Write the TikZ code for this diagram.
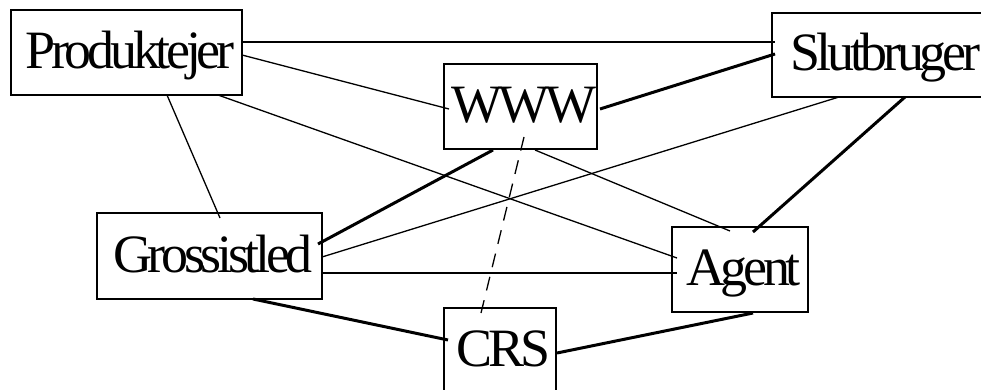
\documentclass[tikz,border=0pt]{standalone}
\usepackage{fontspec}
\setmainfont{Liberation Serif}
\newfontfamily\boxfont[LetterSpace=-8]{Liberation Serif}
\usetikzlibrary{calc}
\begin{document}
\begin{tikzpicture}[x=1pt, y=-1pt,
  entity/.style={draw, line width=1.3pt, inner sep=0pt,
    font=\boxfont\fontsize{54}{60}\selectfont,
    execute at begin node={\kern7pt},
    text height=40pt, text depth=8pt, minimum height=85pt},
  thinlink/.style={line width=1.3pt},
  thicklink/.style={line width=3pt},
  dashlink/.style={line width=1.3pt, dash pattern=on 14pt off 10pt}]
  \useasboundingbox (0,0) rectangle (981,390);
  \clip (0,0) rectangle (981,390);

  % actors
  \node[entity, minimum width=231pt] (prod)  at (126.5,52.5) {Produktejer};
  \node[entity, minimum width=153pt] (www)   at (520.5,106.5) {WWW};
  \node[entity, minimum width=236pt, minimum height=84pt] (slut) at (890,55) {\kern-16pt Slutbruger};
  \node[entity, minimum width=225pt, minimum height=86pt] (gross) at (209.5,256) {Grossistled};
  \node[entity, minimum width=136pt] (agent) at (740,269.5) {Agent};
  \node[entity, minimum width=112pt] (crs)   at (500,350.5) {CRS};

  % thin relations
  \draw[thinlink] ($(prod)+(115.5,-10.5)$) -- ($(slut)+(-115,-13)$);
  \draw[thinlink] ($(prod)+(115.5,2.5)$) -- ($(www)+(-71.5,2.5)$);
  \draw[thinlink] ($(prod)+(40.5,42.5)$) -- ($(gross)+(10.5,-38)$);
  \draw[thinlink] ($(prod)+(91.5,42.5)$) -- ($(agent)+(-63,-11.5)$);
  \draw[thinlink] ($(www)+(14.5,43.5)$) -- ($(agent)+(-10,-38.5)$);
  \draw[thinlink] ($(gross)+(112.5,1)$) -- ($(slut)+(-51,42)$);
  \draw[thinlink] ($(gross)+(112.5,17)$) -- ($(agent)+(-63,3.5)$);

  % strong relations
  \draw[thicklink] ($(www)+(79.5,2.5)$) -- ($(slut)+(-115,-1)$);
  \draw[thicklink] ($(www)+(-27.5,43.5)$) -- ($(gross)+(108.5,-12)$);
  \draw[thicklink] ($(slut)+(15,42)$) -- ($(agent)+(13,-37.5)$);
  \draw[thicklink] ($(gross)+(43.5,43)$) -- ($(crs)+(-52,-10.5)$);
  \draw[thicklink] ($(crs)+(57,2.5)$) -- ($(agent)+(13,43.5)$);

  % weak relation
  \draw[dashlink] ($(www)+(3.5,30.5)$) -- ($(crs)+(-19,-37.5)$);
\end{tikzpicture}
\end{document}
